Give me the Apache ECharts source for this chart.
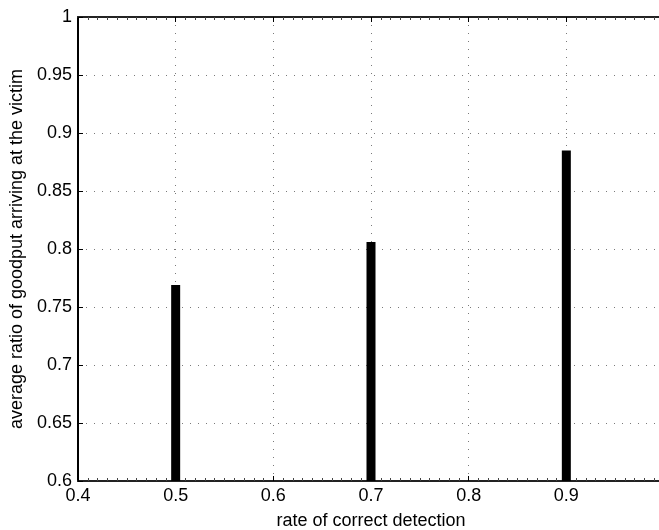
<!DOCTYPE html>
<html>
<head>
<meta charset="utf-8">
<script src="https://cdn.jsdelivr.net/npm/echarts@6/dist/echarts.min.js"></script>
<style>
  html, body { margin: 0; padding: 0; background: #fff; overflow: hidden; }
  #chart { width: 659px; height: 530px; }
</style>
</head>
<body>
<div id="chart"></div>
<script>
// detection rates (x) and goodput ratios (y)
const detectionRate = [0.5, 0.7, 0.9]
const goodputRatio = [0.769, 0.806, 0.885]

const font = 'Liberation Sans, Arial, Helvetica, sans-serif'
const dotted = { color: '#7a7a7a', width: 1, type: [1, 7] }

let barData = detectionRate.map((x, i) => [x, goodputRatio[i]])

let chart = echarts.init(document.getElementById('chart'))
let option = {
  animation: false,
  grid: {
    left: 78,
    right: -5,
    top: 17,
    bottom: 49,
    containLabel: false,
    outerBoundsMode: 'none' // v6 otherwise squeezes the grid to fit the labels
  },
  xAxis: [{
    type: 'value',
    min: 0.4,
    max: 1.0,
    interval: 0.1,
    position: 'bottom',
    name: 'rate of correct detection',
    nameLocation: 'middle',
    nameGap: 31,
    nameTextStyle: { fontFamily: font, fontSize: 18, color: '#000' },
    axisLine: { lineStyle: { color: '#222', width: 2 } },
    axisTick: { inside: true, length: 5, lineStyle: { color: '#000' } },
    minorTick: { show: true, splitNumber: 10, length: 3, lineStyle: { color: '#444' } },
    axisLabel: {
      fontFamily: font, fontSize: 18, color: '#000', margin: 6,
      formatter: v => (v >= 0.999 ? '' : String(Math.round(v * 10) / 10))
    },
    splitLine: { show: true, lineStyle: dotted }
  }, {
    type: 'value',
    min: 0.4,
    max: 1.0,
    interval: 0.1,
    position: 'top',
    axisLine: { show: true, lineStyle: { color: '#222', width: 2 } },
    axisTick: { show: true, inside: true, length: 5, lineStyle: { color: '#000' } },
    minorTick: { show: true, splitNumber: 10, length: 3, lineStyle: { color: '#444' } },
    axisLabel: { show: false },
    splitLine: { show: false }
  }],
  yAxis: {
    type: 'value',
    min: 0.6,
    max: 1,
    interval: 0.05,
    name: 'average ratio of goodput arriving at the victim',
    nameLocation: 'middle',
    nameGap: 48,
    nameTextStyle: { fontFamily: font, fontSize: 18, color: '#000' },
    axisLine: { show: true, lineStyle: { color: '#000', width: 2 } },
    axisTick: { show: true, inside: true, length: 5, lineStyle: { color: '#000' } },
    axisLabel: {
      fontFamily: font, fontSize: 18, color: '#000', margin: 6,
      formatter: v => String(Math.round(v * 100) / 100)
    },
    splitLine: { show: true, lineStyle: dotted }
  },
  series: [{
    type: 'bar',
    xAxisIndex: 0,
    data: barData,
    barWidth: 9,
    itemStyle: { color: '#000' }
  }]
}
chart.setOption(option)
</script>
</body>
</html>
